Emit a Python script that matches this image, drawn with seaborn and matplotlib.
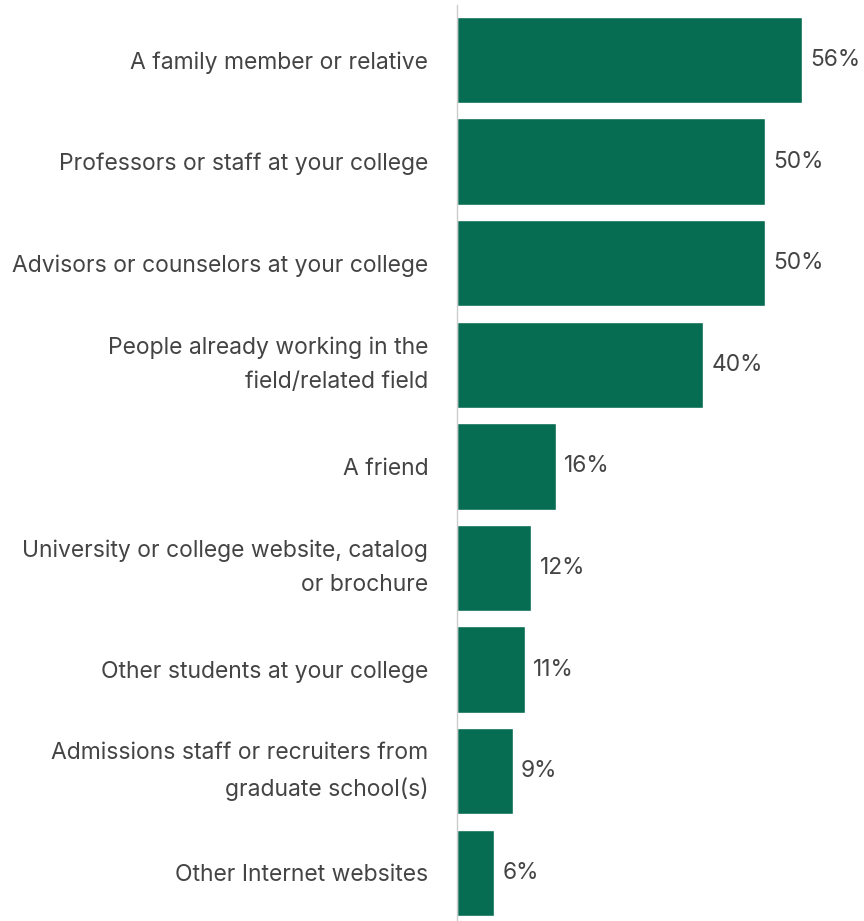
import matplotlib
matplotlib.use("Agg")
import matplotlib.pyplot as plt
import matplotlib.transforms as mtransforms
import seaborn as sns
import pandas as pd

categories = [
    "A family member or relative",
    "Professors or staff at your college",
    "Advisors or counselors at your college",
    "People already working in the\nfield/related field",
    "A friend",
    "University or college website, catalog\nor brochure",
    "Other students at your college",
    "Admissions staff or recruiters from\ngraduate school(s)",
    "Other Internet websites",
]
values = [56, 50, 50, 40, 16, 12, 11, 9, 6]
value_labels = ["56%", "50%", "50%", "40%", "16%", "12%", "11%", "9%", "6%"]

sns.set_theme(style="white")
plt.rcParams["font.family"] = ["Inter", "DejaVu Sans"]

df = pd.DataFrame({"source": categories, "share": values})

fig = plt.figure(figsize=(8.64, 9.21), dpi=100)
ax = fig.add_axes([457.5 / 864, 0, (864 - 457.5) / 864, 1 - 5 / 921])

sns.barplot(data=df, x="share", y="source", color="#066C52", saturation=1,
            width=0.85, orient="h", ax=ax)

ax.set_xlim(0, (864 - 457.5) / (344 / 56))
ax.set_ylim(8.474, -0.541)

ax.bar_label(ax.containers[0], labels=value_labels, padding=6,
             fontsize=16.4, color="#444444")

ax.set_xlabel("")
ax.set_ylabel("")
ax.set_xticks([])
ax.tick_params(axis="y", length=0, pad=21, labelsize=16.5, labelcolor="#444444")

# Two-line labels sit slightly above the bar centre
lift = mtransforms.ScaledTranslation(0, 9 / 100, fig.dpi_scale_trans)
for lbl in ax.get_yticklabels():
    if "\n" in lbl.get_text():
        lbl.set_linespacing(1.72)
        lbl.set_transform(lbl.get_transform() + lift)

for side in ["top", "right", "bottom"]:
    ax.spines[side].set_visible(False)
ax.spines["left"].set_color("#cccccc")
ax.spines["left"].set_linewidth(1)

fig.savefig("out.png", dpi=100)
